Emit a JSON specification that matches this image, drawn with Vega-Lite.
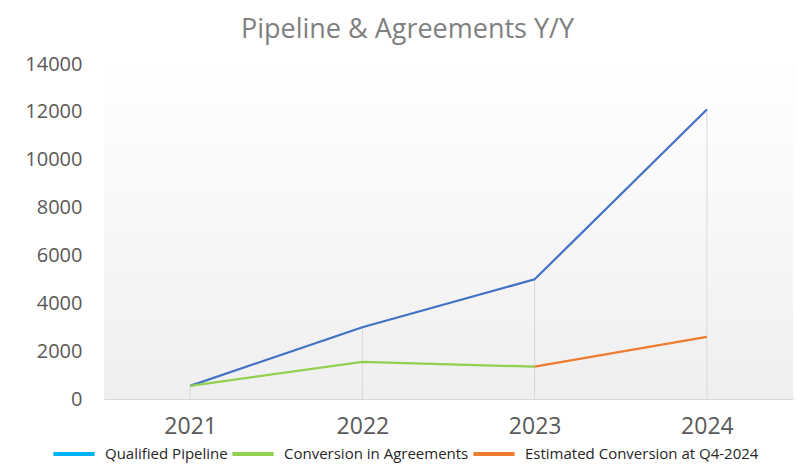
{
  "$schema": "https://vega.github.io/schema/vega-lite/v6.json",
  "autosize": "none",
  "width": 689,
  "height": 335,
  "padding": {"left": 104, "top": 64, "right": 4, "bottom": 72},
  "background": "white",
  "title": {
    "text": "Pipeline & Agreements Y/Y",
    "font": "Open Sans",
    "fontSize": 27,
    "fontWeight": "normal",
    "color": "#808080",
    "anchor": "middle",
    "frame": "group",
    "baseline": "alphabetic",
    "offset": -11,
    "dx": -41
  },
  "config": {
    "view": {
      "stroke": null,
      "fill": {
        "gradient": "linear",
        "x1": 0, "y1": 0, "x2": 0, "y2": 1,
        "stops": [
          {"offset": 0, "color": "#ffffff"},
          {"offset": 1, "color": "#efefef"}
        ]
      }
    }
  },
  "data": {
    "values": [
      {"series": "Qualified Pipeline", "year": "2021", "value": 550},
      {"series": "Qualified Pipeline", "year": "2022", "value": 3000},
      {"series": "Qualified Pipeline", "year": "2023", "value": 5000},
      {"series": "Qualified Pipeline", "year": "2024", "value": 12100},
      {"series": "Conversion in Agreements", "year": "2021", "value": 550},
      {"series": "Conversion in Agreements", "year": "2022", "value": 1550},
      {"series": "Conversion in Agreements", "year": "2023", "value": 1350},
      {"series": "Estimated Conversion at Q4-2024", "year": "2023", "value": 1350},
      {"series": "Estimated Conversion at Q4-2024", "year": "2024", "value": 2600}
    ]
  },
  "layer": [
    {
      "transform": [
        {"aggregate": [{"op": "max", "field": "value", "as": "top"}], "groupby": ["year"]}
      ],
      "mark": {"type": "rule", "color": "#d9d9d9", "strokeWidth": 1},
      "encoding": {
        "x": {"field": "year", "type": "ordinal"},
        "y": {"field": "top", "type": "quantitative"},
        "y2": {"datum": 0}
      }
    },
    {
      "mark": {"type": "line", "strokeWidth": 1},
      "encoding": {
        "x": {"field": "year", "type": "ordinal"},
        "y": {"field": "value", "type": "quantitative"},
        "color": {
          "field": "series",
          "type": "nominal",
          "scale": {
            "domain": ["Qualified Pipeline", "Conversion in Agreements", "Estimated Conversion at Q4-2024"],
            "range": ["#00B0F0", "#92D050", "#ED7D31"]
          },
          "legend": {
            "title": null,
            "orient": "none",
            "direction": "horizontal",
            "legendX": -53,
            "legendY": 367,
            "symbolType": "stroke",
            "symbolSize": 1700,
            "symbolStrokeWidth": 4,
            "labelFont": "Open Sans",
            "labelFontSize": 15,
            "labelColor": "#262626",
            "labelOffset": 8,
            "columnPadding": -4,
            "labelLimit": 400
          }
        }
      }
    },
    {
      "mark": {"type": "line", "strokeWidth": 2.25},
      "encoding": {
        "x": {
          "field": "year",
          "type": "ordinal",
          "scale": {"type": "point", "padding": 0.5},
          "axis": {
            "title": null,
            "labelAngle": 0,
            "labelAlign": "center",
            "labelFont": "Open Sans",
            "labelFontSize": 23,
            "labelColor": "#595959",
            "labelPadding": 27,
            "ticks": false,
            "grid": false,
            "domainColor": "#d9d9d9",
            "domainWidth": 1
          }
        },
        "y": {
          "field": "value",
          "type": "quantitative",
          "scale": {"domain": [0, 14000], "nice": false},
          "axis": {
            "title": null,
            "values": [0, 2000, 4000, 6000, 8000, 10000, 12000, 14000],
            "format": "d",
            "labelFont": "Open Sans",
            "labelFontSize": 20,
            "labelColor": "#595959",
            "labelPadding": 22,
            "ticks": false,
            "grid": false,
            "domain": false
          }
        },
        "stroke": {
          "field": "series",
          "type": "nominal",
          "scale": {
            "domain": ["Qualified Pipeline", "Conversion in Agreements", "Estimated Conversion at Q4-2024"],
            "range": ["#4472C4", "#92D050", "#ED7D31"]
          },
          "legend": null
        }
      }
    }
  ]
}
